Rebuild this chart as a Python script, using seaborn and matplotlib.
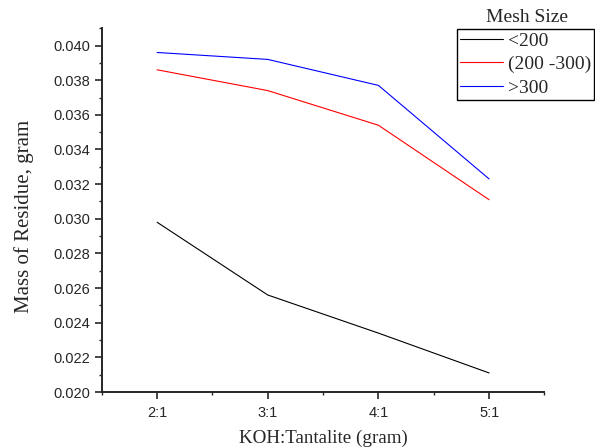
import pandas as pd
import numpy as np
import matplotlib.pyplot as plt
import seaborn as sns
from matplotlib.ticker import MultipleLocator

sns.set_style('ticks')
plt.rcParams['font.family'] = ['Liberation Sans', 'DejaVu Sans']

# Data
ratios = ['2:1', '3:1', '4:1', '5:1']
below_200 = [0.0298, 0.0256, 0.0234, 0.0211]
mid_200_300 = [0.0386, 0.0374, 0.0354, 0.0311]
above_300 = [0.0396, 0.0392, 0.0377, 0.0323]
mesh_labels = ['<200', '(200 -300)', '>300']
mesh_colors = ['black', 'red', 'blue']

df = pd.DataFrame({
    'Ratio': ratios * 3,
    'Mass': below_200 + mid_200_300 + above_300,
    'Mesh': [mesh_labels[0]] * 4 + [mesh_labels[1]] * 4 + [mesh_labels[2]] * 4,
})

fig = plt.figure(figsize=(5.95, 4.48), dpi=100)
ax = fig.add_axes([0.171, 0.125, 0.744, 0.812])

sns.lineplot(data=df, x='Ratio', y='Mass', hue='Mesh', hue_order=mesh_labels,
             palette=mesh_colors, linewidth=0.8, ax=ax, legend=True)

ax.set_xlim(-0.5, 3.5)
ax.set_ylim(0.020, 0.041)
ax.yaxis.set_major_locator(MultipleLocator(0.002))
ax.yaxis.set_minor_locator(MultipleLocator(0.001))
ax.set_xticks(range(len(ratios)))
ax.set_xticklabels(ratios)
ax.xaxis.set_minor_locator(MultipleLocator(0.5))
ax.yaxis.set_major_formatter(plt.FormatStrFormatter('%.3f'))
ax.tick_params(axis='both', which='major', direction='out', length=5, width=1.2, labelsize=10.5)
ax.tick_params(axis='both', which='minor', direction='out', length=2.5, width=1.0)
ax.tick_params(axis='x', which='major', pad=5)

for side in ['top', 'right']:
    ax.spines[side].set_visible(False)
for side in ['left', 'bottom']:
    ax.spines[side].set_linewidth(1.4)

ax.set_xlabel('KOH:Tantalite (gram)', family='Liberation Serif', fontsize=13.7, labelpad=7)
ax.set_ylabel('Mass of Residue, gram', family='Liberation Serif', fontsize=15, labelpad=14)
ax.yaxis.label.set_y(0.483)

handles, labels = ax.get_legend_handles_labels()
ax.legend(handles, labels, loc='upper right', bbox_to_anchor=(594 / 595, 1 - 29 / 448),
          bbox_transform=fig.transFigure, frameon=True, fancybox=False, framealpha=1,
          edgecolor='black', prop={'family': 'Liberation Serif', 'size': 14},
          handlelength=2.2, handletextpad=0.24, borderpad=0.16, labelspacing=0.3,
          borderaxespad=0)
ax.get_legend().get_frame().set_linewidth(1.0)
fig.text(527 / 595, 1 - 18 / 448, 'Mesh Size', ha='center', va='center',
         family='Liberation Serif', fontsize=14)

plt.savefig('out.png', dpi=100)
